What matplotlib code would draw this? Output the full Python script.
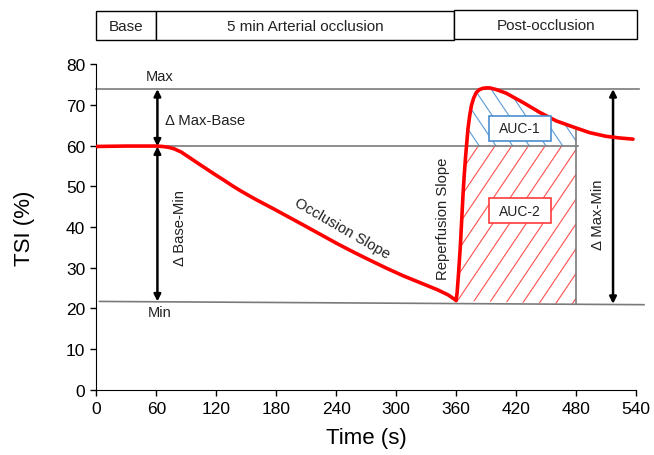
import numpy as np
import matplotlib
matplotlib.use('Agg')
import matplotlib.pyplot as plt
from matplotlib.patches import Rectangle, Polygon
from matplotlib.collections import LineCollection
from matplotlib.transforms import blended_transform_factory

plt.rcParams['font.family'] = ['Liberation Sans', 'DejaVu Sans']

# TSI trace (time in s, TSI in %)
time = [0, 30, 60, 66, 72, 78, 85, 93.5, 102, 110, 118, 127, 135, 143.5, 152, 160, 177, 193.5,
        207, 224, 241, 257.5, 274, 290, 307, 324, 341, 352, 358.5, 360,
        361, 362.5, 364.2, 365.5, 366.8, 368, 369.5, 371.8, 373.5, 375.2, 377.5, 380.2,
        383.5, 386.8, 390, 393.5, 400, 410, 427, 443.5, 460, 477, 493.5, 510, 523, 537]
tsi = [59.8, 59.9, 59.9, 59.8, 59.6, 59.2, 58.4, 57.0, 55.6, 54.3, 53.0, 51.6, 50.3, 49.0, 47.8,
       46.7, 44.5, 42.3, 40.5, 38.2, 35.9, 33.8, 31.8, 29.9, 28.0, 26.3, 24.6, 23.3, 22.2, 21.9,
       24.0, 29.0, 35.4, 41.5, 47.7, 52.5, 57.5, 64.1, 67.3, 69.8, 71.7, 73.1,
       73.8, 74.1, 74.2, 74.2, 73.8, 72.9, 70.6, 68.2, 66.1, 64.6, 63.2, 62.3, 61.9, 61.6]

max_level = 73.9
base_level = 59.8
min_left, min_right = 21.7, 20.9
auc_end = 480

phases = ['Base', '5 min Arterial occlusion', 'Post-occlusion']
phase_edges = [0, 60, 358, 541]

xticks = list(range(0, 541, 60))
yticks = list(range(0, 81, 10))

fig = plt.figure(figsize=(6.54, 4.56), dpi=100)
ax = fig.add_axes([0.1475, 0.1432, 0.825, 0.7136])
ax.set_xlim(0, 540)
ax.set_ylim(0, 80)

t = np.array(time)
v = np.array(tsi)


def hatch(ax, xs, ys, color, slope, start, step):
    # diagonal hatch lines clipped to the polygon (xs, ys)
    region = Polygon(np.column_stack([xs, ys]), closed=True, facecolor='none', edgecolor='none')
    ax.add_patch(region)
    offs = np.arange(start - 20 * step, start + 20 * step, step)
    segs = [[(o - 80 / abs(slope), base_level - 80 * np.sign(slope)),
             (o + 80 / abs(slope), base_level + 80 * np.sign(slope))] for o in offs]
    lc = LineCollection(segs, colors=color, linewidths=0.8)
    ax.add_collection(lc)
    lc.set_clip_path(region)


gray = '#7a7a7a'
v_end = np.interp(auc_end, t[t > 390], v[t > 390])
rise = (t >= 360) & (t <= 383.5)
t_cross = np.interp(base_level, v[rise], t[rise])
min_at_end = min_left + (min_right - min_left) * (auc_end - 3) / (548 - 3)

# AUC-1: between curve and baseline
up = (t > t_cross) & (t < auc_end)
x1 = np.concatenate([[t_cross], t[up], [auc_end, auc_end]])
y1 = np.concatenate([[base_level], v[up], [v_end, base_level]])
hatch(ax, x1, y1, '#5b9bd5', -0.365, 383.5, 16.7)

# AUC-2: between baseline and minimum
lo = (t >= 360) & (t < t_cross)
x2 = np.concatenate([t[lo], [t_cross, auc_end, auc_end]])
y2 = np.concatenate([v[lo], [base_level, base_level, min_at_end]])
hatch(ax, x2, y2, '#ff5050', 0.365, 381.8, 16.7)

# reference lines
ax.plot([0, 543], [max_level, max_level], color=gray, lw=1.2, clip_on=False)
ax.plot([0, 482], [base_level, base_level], color=gray, lw=1.2)
ax.plot([3, 548], [min_left, min_right], color=gray, lw=1.2, clip_on=False)
ax.plot([auc_end, auc_end], [min_at_end, v_end], color=gray, lw=1.2)

# TSI curve
ax.plot(t, v, color='#ff0000', lw=2.6, solid_capstyle='round', solid_joinstyle='round', zorder=5)

# arrows
arrow = dict(arrowstyle='<|-|>', color='black', lw=1.8, mutation_scale=10, shrinkA=0, shrinkB=0)
ax.annotate('', xy=(61, max_level), xytext=(61, base_level), arrowprops=arrow)
ax.annotate('', xy=(61, base_level), xytext=(61, min_left), arrowprops=arrow)
ax.annotate('', xy=(517, max_level), xytext=(517, 21.1), arrowprops=arrow)

# labels
txt = '#222222'
fs = 10.7
ax.text(63.5, 77.1, 'Max', fontsize=10.5, ha='center', va='center', color=txt)
ax.text(63.5, 19.0, 'Min', fontsize=10.5, ha='center', va='center', color=txt)
ax.text(68.5, 66.2, '\u0394 Max-Base', fontsize=fs, ha='left', va='center', color=txt)
ax.text(84, 40, '\u0394 Base-Min', fontsize=fs, rotation=90, ha='center', va='center', color=txt)
ax.text(246, 39.8, 'Occlusion Slope', fontsize=fs, rotation=-30, rotation_mode='anchor',
        ha='center', va='center', color=txt)
ax.text(347, 42.2, 'Reperfusion Slope', fontsize=fs, rotation=90, ha='center', va='center', color=txt)
ax.text(502, 43.2, '\u0394 Max-Min', fontsize=fs, rotation=90, ha='center', va='center', color=txt)

for cx, cy, label, col in [(424, 64.3, 'AUC-1', '#4a8fd0'), (423.5, 44.0, 'AUC-2', '#ff3b3b')]:
    ax.add_patch(Rectangle((cx - 31, cy - 3.1), 62, 6.2, facecolor='white', edgecolor=col, lw=1.2, zorder=6))
    ax.text(cx, cy, label, fontsize=10, ha='center', va='center', color=txt, zorder=7)

# phase header
tr = blended_transform_factory(ax.transData, fig.transFigure)
for i, name in enumerate(phases):
    x0, x1_ = phase_edges[i], phase_edges[i + 1]
    yb, h = (0.912, 0.064) if i == 2 else (0.909, 0.0636)
    ax.add_patch(Rectangle((x0, yb), x1_ - x0, h, transform=tr, facecolor='white',
                           edgecolor='black', lw=1, clip_on=False))
    ax.text((x0 + x1_) / 2, yb + h / 2, name, transform=tr, fontsize=11, ha='center',
            va='center', color=txt)

ax.set_xticks(xticks)
ax.set_yticks(yticks)
ax.tick_params(direction='out', length=4, width=1, labelsize=12.5, colors='black', pad=4)
for s in ['top', 'right']:
    ax.spines[s].set_visible(False)
ax.set_xlabel('Time (s)', fontsize=16, labelpad=8)
ax.set_ylabel('TSI (%)', fontsize=16, labelpad=22)

fig.savefig('out.png', dpi=100)
